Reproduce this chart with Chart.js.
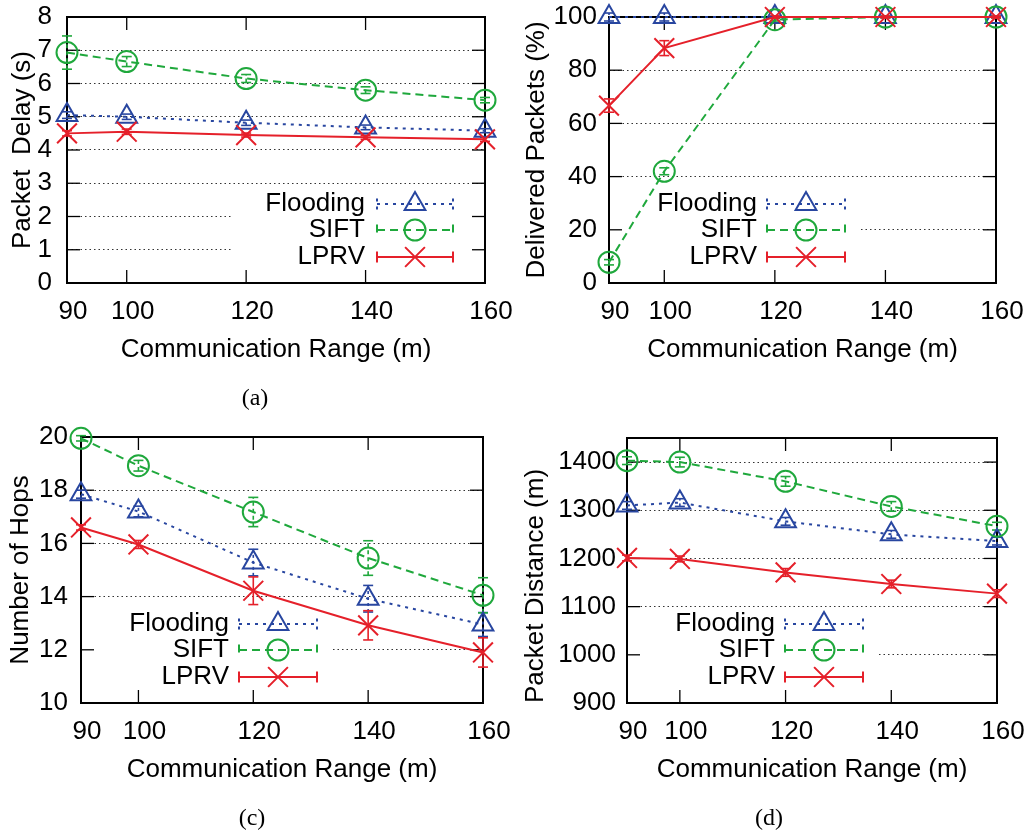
<!DOCTYPE html>
<html>
<head>
<meta charset="utf-8">
<title>Communication range study</title>
<script src="https://cdn.jsdelivr.net/npm/chart.js@4.4.1/dist/chart.umd.min.js"></script>
<style>
  html, body { margin: 0; padding: 0; background: #fff; overflow: hidden; }
  #fig { position: relative; width: 1026px; height: 832px; overflow: hidden; }
  canvas { position: absolute; }
  .cap {
    position: absolute;
    font-family: "Liberation Serif", "DejaVu Serif", serif;
    font-size: 24px;
    color: #000;
    transform: translate(-50%, -50%);
    white-space: nowrap;
  }
</style>
</head>
<body>
<div id="fig">
  <canvas id="cA" width="526" height="420" style="left:0;top:0;width:526px;height:420px"></canvas>
  <canvas id="cB" width="516" height="420" style="left:510px;top:0;width:516px;height:420px"></canvas>
  <canvas id="cC" width="526" height="412" style="left:0;top:420px;width:526px;height:412px"></canvas>
  <canvas id="cD" width="516" height="412" style="left:510px;top:420px;width:516px;height:412px"></canvas>
  <div class="cap" style="left:255px;top:397px">(a)</div>
  <div class="cap" style="left:252px;top:817px">(c)</div>
  <div class="cap" style="left:769px;top:817px">(d)</div>
</div>
<script>
// ---- data ----
const ranges = [90, 100, 120, 140, 160];
const seriesNames = ['Flooding', 'SIFT', 'LPRV'];

// (a) packet delay, seconds
const delayTicks = [0, 1, 2, 3, 4, 5, 6, 7, 8];
const delayFlooding = [5.05, 5.00, 4.82, 4.68, 4.58];
const delaySift     = [6.93, 6.66, 6.15, 5.80, 5.50];
const delayLprv     = [4.50, 4.55, 4.45, 4.38, 4.32];
const delayFloodingErr = [0.10, 0.08, 0.08, 0.07, 0.06];
const delaySiftErr     = [0.50, 0.15, 0.12, 0.10, 0.08];
const delayLprvErr     = [0.08, 0.08, 0.06, 0.06, 0.06];

// (b) delivered packets, percent
const deliveredTicks = [0, 20, 40, 60, 80, 100];
const deliveredFlooding = [100, 100, 100, 100, 100];
const deliveredSift     = [7.8, 42, 99, 100, 100];
const deliveredLprv     = [66.7, 88.3, 100, 100, 100];
const deliveredFloodingErr = [1.5, 1.5, 0.3, 0.3, 0.3];
const deliveredSiftErr     = [1.0, 1.3, 0.5, 0.3, 0.3];
const deliveredLprvErr     = [2.5, 2.8, 0.4, 0.3, 0.3];

// (c) number of hops
const hopsTicks = [10, 12, 14, 16, 18, 20];
const hopsFlooding = [17.85, 17.2, 15.28, 13.92, 12.95];
const hopsSift     = [19.95, 18.92, 17.18, 15.45, 14.05];
const hopsLprv     = [16.6, 15.96, 14.22, 12.92, 11.9];
const hopsFloodingErr = [0.15, 0.2, 0.5, 0.5, 0.45];
const hopsSiftErr     = [0.1, 0.2, 0.55, 0.65, 0.66];
const hopsLprvErr     = [0.1, 0.15, 0.52, 0.55, 0.55];

// (d) packet distance, metres
const distanceTicks = [900, 1000, 1100, 1200, 1300, 1400];
const distanceFlooding = [1310, 1316, 1277, 1250, 1236];
const distanceSift     = [1403, 1400, 1360, 1308, 1267];
const distanceLprv     = [1201, 1199, 1171, 1147, 1127];
const distanceFloodingErr = [8, 8, 8, 8, 8];
const distanceSiftErr     = [8, 10, 10, 10, 8];
const distanceLprvErr     = [6, 6, 8, 8, 8];

// ---- styling ----
const FONT = '"Liberation Sans", Arial, Helvetica, sans-serif';
const FONT_SIZE = 26;
const seriesStyles = [
  { color: '#2846a0', dash: [3, 5], point: 'triangle', radius: 12, order: 2 },
  { color: '#1fa83c', dash: [8, 5], point: 'circle',   radius: 10.5, order: 1 },
  { color: '#e5202a', dash: [],     point: 'crossRot', radius: 14,   order: 0 }
];

const panels = [
  { canvas: 'cA', width: 526, height: 420, area: { left: 67, right: 485, top: 17 },
    yTitle: 'Packet  Delay (s)', yTitlePad: 7.4, yTitleAlign: 'center', yTickPad: 15,
    yMin: 0, yMax: 8, yTicks: delayTicks,
    values: [delayFlooding, delaySift, delayLprv],
    errors: [delayFloodingErr, delaySiftErr, delayLprvErr], keySide: 'right' },
  { canvas: 'cB', width: 516, height: 420, area: { left: 99, right: 486, top: 17 },
    yTitle: 'Delivered Packets (%)', yTitlePad: 11.4, yTitleAlign: 'center', yTickPad: 12,
    yMin: 0, yMax: 100, yTicks: deliveredTicks,
    values: [deliveredFlooding, deliveredSift, deliveredLprv],
    errors: [deliveredFloodingErr, deliveredSiftErr, deliveredLprvErr], keySide: 'left' },
  { canvas: 'cC', width: 526, height: 412, area: { left: 81, right: 483, top: 17 },
    yTitle: 'Number of Hops', yTitlePad: 5.4, yTitleAlign: 'center', yTickPad: 13,
    yMin: 10, yMax: 20, yTicks: hopsTicks,
    values: [hopsFlooding, hopsSift, hopsLprv],
    errors: [hopsFloodingErr, hopsSiftErr, hopsLprvErr], keySide: 'left' },
  { canvas: 'cD', width: 516, height: 412, area: { left: 117, right: 487, top: 18 },
    yTitle: 'Packet Distance (m)', yTitlePad: 10.4, yTitleAlign: 'start', yTickPad: 11,
    yMin: 900, yMax: 1450, yTicks: distanceTicks,
    values: [distanceFlooding, distanceSift, distanceLprv],
    errors: [distanceFloodingErr, distanceSiftErr, distanceLprvErr], keySide: 'left' }
];

const AREA_BOTTOM = 283;   // chart-area bottom inside each canvas
const XAXIS_HEIGHT = 82;   // tick labels + axis title
const TICK_LEN = 13;
const KEY_ROWS = [79, 53, 26]; // row offsets above the plot bottom

function marker(ctx, style, x, y) {
  const opts = { pointStyle: style.point, radius: style.radius, rotation: 0, borderWidth: 2 };
  ctx.save();
  ctx.setLineDash([]);
  ctx.strokeStyle = style.color;
  ctx.fillStyle = 'rgba(0,0,0,0)';
  ctx.lineWidth = 2;
  if (Chart.helpers && Chart.helpers.drawPoint) {
    Chart.helpers.drawPoint(ctx, opts, x, y);
  } else {
    const r = style.radius;
    ctx.beginPath();
    if (style.point === 'circle') {
      ctx.arc(x, y, r, 0, Math.PI * 2);
    } else if (style.point === 'triangle') {
      ctx.moveTo(x, y - r);
      ctx.lineTo(x + r * 0.866, y + r / 2);
      ctx.lineTo(x - r * 0.866, y + r / 2);
      ctx.closePath();
    } else {
      const d = r * 0.7071;
      ctx.moveTo(x - d, y - d); ctx.lineTo(x + d, y + d);
      ctx.moveTo(x - d, y + d); ctx.lineTo(x + d, y - d);
    }
    ctx.stroke();
  }
  ctx.restore();
}

function seg(ctx, x1, y1, x2, y2) {
  ctx.beginPath();
  ctx.moveTo(x1, y1);
  ctx.lineTo(x2, y2);
  ctx.stroke();
}

function keyGeometry(panel, a) {
  if (panel.keySide === 'right') {
    const sampleEnd = a.right - 32;
    return { boxLeft: a.right - 252, boxRight: a.right,
             sampleStart: sampleEnd - 76, sampleEnd, textRight: sampleEnd - 88 };
  }
  return { boxLeft: a.left, boxRight: a.left + 250,
           sampleStart: a.left + 158, sampleEnd: a.left + 236, textRight: a.left + 148 };
}

function framePlugin(panel) {
  return {
    id: 'frame_' + panel.canvas,
    beforeDatasetsDraw(chart) {
      const { ctx, chartArea: a, scales: { x, y } } = chart;
      const k = keyGeometry(panel, a);
      ctx.save();
      // opaque key box hides the grid behind it
      ctx.fillStyle = '#fff';
      ctx.fillRect(k.boxLeft, a.bottom - 93, k.boxRight - k.boxLeft, 93);
      // inward tick marks on all four sides
      ctx.strokeStyle = '#000';
      ctx.lineWidth = 1.3;
      x.ticks.forEach(t => {
        const px = x.getPixelForValue(t.value);
        seg(ctx, px, a.bottom, px, a.bottom - TICK_LEN);
        seg(ctx, px, a.top, px, a.top + TICK_LEN);
      });
      y.ticks.forEach(t => {
        const py = y.getPixelForValue(t.value);
        seg(ctx, a.left, py, a.left + TICK_LEN, py);
        seg(ctx, a.right, py, a.right - TICK_LEN, py);
      });
      // plot border
      ctx.lineWidth = 2;
      ctx.strokeRect(a.left, a.top, a.right - a.left, a.bottom - a.top);
      // error bars
      panel.values.forEach((vals, s) => {
        const st = seriesStyles[s];
        const barDash = st.dash.length ? [Math.min(st.dash[0], 4), 3] : [];
        ctx.strokeStyle = st.color;
        ctx.lineWidth = 1.6;
        vals.forEach((v, i) => {
          const e = panel.errors[s][i];
          const px = x.getPixelForValue(ranges[i]);
          const hi = y.getPixelForValue(v + e);
          const lo = y.getPixelForValue(v - e);
          ctx.setLineDash(barDash);
          seg(ctx, px, lo, px, hi);
          ctx.setLineDash([]);
          seg(ctx, px - 5, hi, px + 5, hi);
          seg(ctx, px - 5, lo, px + 5, lo);
        });
      });
      ctx.restore();
    },
    afterDatasetsDraw(chart) {
      const { ctx, chartArea: a } = chart;
      const k = keyGeometry(panel, a);
      ctx.save();
      seriesNames.forEach((name, s) => {
        const st = seriesStyles[s];
        const ry = a.bottom - KEY_ROWS[s];
        ctx.font = FONT_SIZE + 'px ' + FONT;
        ctx.fillStyle = '#000';
        ctx.textAlign = 'right';
        ctx.textBaseline = 'middle';
        ctx.fillText(name, k.textRight, ry);
        ctx.strokeStyle = st.color;
        ctx.lineWidth = 2;
        ctx.setLineDash(st.dash);
        seg(ctx, k.sampleStart, ry, k.sampleEnd, ry);
        seg(ctx, k.sampleStart, ry - 5.5, k.sampleStart, ry + 5.5);
        seg(ctx, k.sampleEnd, ry - 5.5, k.sampleEnd, ry + 5.5);
        marker(ctx, st, (k.sampleStart + k.sampleEnd) / 2, ry);
      });
      ctx.restore();
    }
  };
}

function buildChart(panel) {
  const datasets = seriesNames.map((name, s) => {
    const st = seriesStyles[s];
    return {
      label: name,
      data: ranges.map((r, i) => ({ x: r, y: panel.values[s][i] })),
      borderColor: st.color,
      backgroundColor: 'rgba(0,0,0,0)',
      borderWidth: 2,
      borderDash: st.dash,
      tension: 0,
      pointStyle: st.point,
      pointRadius: st.radius,
      pointBorderWidth: 2,
      pointBorderColor: st.color,
      pointBackgroundColor: 'rgba(0,0,0,0)',
      clip: false,
      order: st.order
    };
  });
  const font = { family: FONT, size: FONT_SIZE };
  const plain = v => String(v);
  return new Chart(document.getElementById(panel.canvas), {
    type: 'line',
    data: { datasets },
    options: {
      responsive: false,
      animation: false,
      events: [],
      devicePixelRatio: 1,
      layout: {
        padding: {
          left: 0,
          top: panel.area.top,
          right: panel.width - panel.area.right,
          bottom: panel.height - AREA_BOTTOM - XAXIS_HEIGHT
        }
      },
      plugins: { legend: { display: false }, tooltip: { enabled: false }, title: { display: false } },
      scales: {
        x: {
          type: 'linear',
          min: 90,
          max: 160,
          afterBuildTicks: s => { s.ticks = ranges.map(v => ({ value: v })); },
          afterFit: s => {
            s.height = XAXIS_HEIGHT;
            s.paddingLeft = 0; s.paddingRight = 0;
          },
          ticks: { padding: 5, labelOffset: 6, maxRotation: 0, autoSkip: false,
                   color: '#000', font, callback: plain },
          grid: { display: false },
          border: { display: false },
          title: { display: true, text: 'Communication Range (m)', color: '#000', font,
                   padding: { top: 0, bottom: 0 } }
        },
        y: {
          type: 'linear',
          min: panel.yMin,
          max: panel.yMax,
          afterBuildTicks: s => { s.ticks = panel.yTicks.map(v => ({ value: v })); },
          afterFit: s => {
            s.width = panel.area.left;
            s.paddingTop = 0; s.paddingBottom = 0;
          },
          ticks: { padding: panel.yTickPad, autoSkip: false, color: '#000', font, callback: plain },
          grid: { color: '#333', lineWidth: 1.1, drawTicks: false },
          border: { display: false, dash: [1.5, 3] },
          title: { display: true, text: panel.yTitle, color: '#000', font, align: panel.yTitleAlign,
                   padding: { top: panel.yTitlePad, bottom: 0 } }
        }
      }
    },
    plugins: [framePlugin(panel)]
  });
}

panels.forEach(buildChart);
</script>
</body>
</html>
